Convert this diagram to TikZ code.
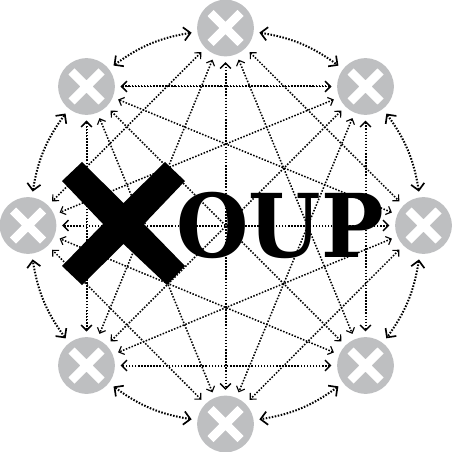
\documentclass[tikz,border=0pt]{standalone}
\usepackage{fontspec}
\setmainfont{DejaVu Serif}
\usetikzlibrary{arrows.meta,bending}
\definecolor{nodegray}{RGB}{190,191,193}
\tikzset{
  peer/.style={circle,fill=nodegray,draw=none,minimum size=42.5pt,inner sep=0pt,outer sep=0pt},
  link/.style={line width=1.15pt,dash pattern=on 1.15pt off 1.15pt,{Straight Barb[length=3.4pt,width=6.6pt,line width=0.85pt]}-{Straight Barb[length=3.4pt,width=6.6pt,line width=0.85pt]},shorten <=4.4pt,shorten >=4.4pt},
  axial/.style={link,line width=1.5pt,{Straight Barb[length=4pt,width=8pt,line width=1pt]}-{Straight Barb[length=4pt,width=8pt,line width=1pt]}},
  side/.style={link,line width=1.5pt,{Straight Barb[length=5pt,width=10pt,line width=1.25pt]}-{Straight Barb[length=5pt,width=10pt,line width=1.25pt]}}
}
\begin{document}
\begin{tikzpicture}[x=0.75pt,y=-0.75pt]
\useasboundingbox (0,0) rectangle (452,452);
\fill[white] (0,0) rectangle (452,452);
\node[peer] (n0) at (225.5,28) {};
\node[peer] (n1) at (365.5,86.5) {};
\node[peer] (n2) at (423.5,225.5) {};
\node[peer] (n3) at (365.5,365.5) {};
\node[peer] (n4) at (225.5,424) {};
\node[peer] (n5) at (86.5,365.5) {};
\node[peer] (n6) at (28,225.5) {};
\node[peer] (n7) at (86.5,86.5) {};
\foreach \c in {n0,n1,n2,n3,n4,n5,n6,n7}{
  \fill[white,shift={(\c)}] (-12,-18) -- (0,-6.2) -- (12,-18) -- (18,-12) -- (6.2,0) -- (18,12) -- (12,18) -- (0,6.2) -- (-12,18) -- (-18,12) -- (-6.2,0) -- (-18,-12) -- cycle;
}
\foreach \a/\b in {n0/n2,n0/n3,n0/n5,n0/n6,n1/n4,n1/n5,n1/n6,n1/n7,n2/n4,n2/n5,n2/n7,n3/n6,n3/n7,n4/n6,n4/n7,n5/n7}{
  \draw[link] (\a) -- (\b);
}
\draw[axial] (n0) -- (n4);
\draw[axial] (n2) -- (n6);
\draw[axial] (n1) -- (n3);
\draw[axial] (n3) -- (n5);
\draw[axial] (n5) -- (n7);
\draw[axial] (n7) -- (n1);
\draw[side] (n0) to[bend left=15] (n1);
\draw[side] (n1) to[bend left=15] (n2);
\draw[side] (n2) to[bend left=15] (n3);
\draw[side] (n3) to[bend left=15] (n4);
\draw[side] (n4) to[bend left=15] (n5);
\draw[side] (n5) to[bend left=15] (n6);
\draw[side] (n6) to[bend left=15] (n7);
\draw[side] (n7) to[bend left=15] (n0);
\fill[black] (82,162) -- (123.5,203) -- (165,162) -- (185,181) -- (144,224) -- (185,266) -- (167,285) -- (123.5,244) -- (82,285) -- (62,266) -- (103,224) -- (62,181) -- cycle;
\node[font=\bfseries\fontsize{66}{66}\selectfont,inner sep=0pt,anchor=base west,xscale=0.945] (word) at (176,257) {OUP};
\end{tikzpicture}
\end{document}
